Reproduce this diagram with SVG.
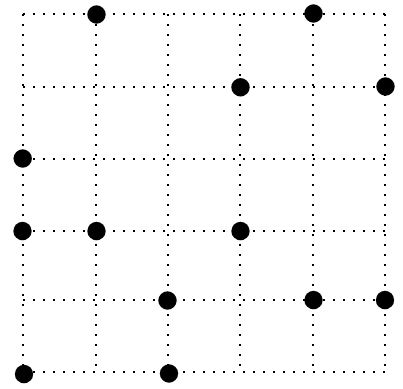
<svg xmlns="http://www.w3.org/2000/svg" width="403" height="389" viewBox="0 0 403 389">
<style>
.g{stroke:#000;stroke-width:2;stroke-dasharray:2 8;fill:none}
.d{fill:#000}
</style>
<rect width="403" height="389" fill="#fff"/>
<g id="connectors">
<line class="g" x1="23" y1="14" x2="386" y2="14"/>
<line class="g" x1="23" y1="87" x2="386" y2="87"/>
<line class="g" x1="23" y1="159" x2="386" y2="159"/>
<line class="g" x1="23" y1="231" x2="386" y2="231"/>
<line class="g" x1="23" y1="300" x2="386" y2="300"/>
<line class="g" x1="23" y1="372" x2="386" y2="372"/>
<line class="g" x1="23" y1="14" x2="23" y2="373"/>
<line class="g" x1="96" y1="14" x2="96" y2="373"/>
<line class="g" x1="168" y1="14" x2="168" y2="373"/>
<line class="g" x1="240" y1="14" x2="240" y2="373"/>
<line class="g" x1="313" y1="14" x2="313" y2="373"/>
<line class="g" x1="385" y1="14" x2="385" y2="373"/>
</g>
<g id="n1"><circle class="d" cx="96.5" cy="14.5" r="9.2"/></g>
<g id="n2"><circle class="d" cx="313.5" cy="13.5" r="9.2"/></g>
<g id="n3"><circle class="d" cx="240.5" cy="87.3" r="9.2"/></g>
<g id="n4"><circle class="d" cx="385.5" cy="86.5" r="9.2"/></g>
<g id="n5"><circle class="d" cx="22.7" cy="158.5" r="9.2"/></g>
<g id="n6"><circle class="d" cx="22.5" cy="231" r="9.2"/></g>
<g id="n7"><circle class="d" cx="96.5" cy="231" r="9.2"/></g>
<g id="n8"><circle class="d" cx="240.5" cy="231" r="9.2"/></g>
<g id="n9"><circle class="d" cx="167.5" cy="300.5" r="9.2"/></g>
<g id="n10"><circle class="d" cx="313.5" cy="300" r="9.2"/></g>
<g id="n11"><circle class="d" cx="385" cy="300" r="9.2"/></g>
<g id="n12"><circle class="d" cx="24" cy="374" r="9.2"/></g>
<g id="n13"><circle class="d" cx="169" cy="373.5" r="9.2"/></g>
</svg>
